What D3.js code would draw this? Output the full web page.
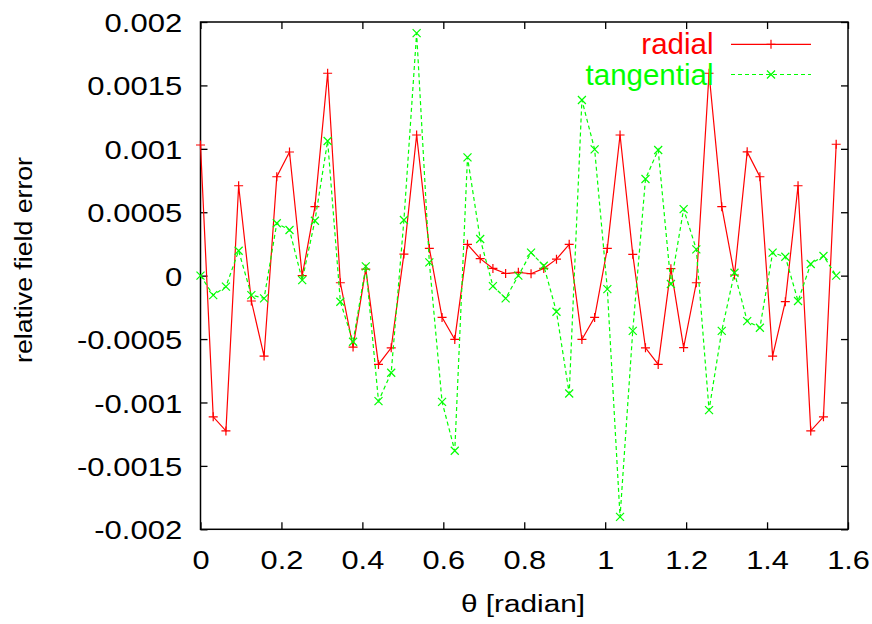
<!DOCTYPE html>
<html>
<head>
<meta charset="utf-8">
<script src="https://cdn.jsdelivr.net/npm/d3@7"></script>
<style>
html,body{margin:0;padding:0;background:#fff;}
svg{display:block;}
text{font-family:"Liberation Sans",Arial,Helvetica,sans-serif;}
</style>
</head>
<body>
<svg id="chart" width="872" height="624"></svg>
<script>
// theta = i * pi/100, i = 0..50
const nPoints = 51;
const thetaStep = Math.PI / 100;
const radial = [
  1.030e-3, -1.113e-3, -1.224e-3, 0.709e-3, -0.200e-3, -0.634e-3, 0.780e-3, 0.975e-3, 0.000e-3, 0.544e-3,
  1.596e-3, -0.056e-3, -0.563e-3, 0.052e-3, -0.700e-3, -0.569e-3, 0.170e-3, 1.109e-3, 0.215e-3, -0.329e-3,
  -0.503e-3, 0.247e-3, 0.134e-3, 0.057e-3, 0.017e-3, 0.026e-3, 0.015e-3, 0.057e-3, 0.130e-3, 0.247e-3,
  -0.503e-3, -0.329e-3, 0.215e-3, 1.109e-3, 0.168e-3, -0.569e-3, -0.700e-3, 0.055e-3, -0.567e-3, -0.056e-3,
  1.596e-3, 0.544e-3, 0.005e-3, 0.976e-3, 0.780e-3, -0.634e-3, -0.205e-3, 0.709e-3, -1.224e-3, -1.113e-3,
  1.036e-3
];
const tangential = [
  0.000e-3, -0.153e-3, -0.087e-3, 0.196e-3, -0.153e-3, -0.179e-3, 0.413e-3, 0.360e-3, -0.035e-3, 0.433e-3,
  1.062e-3, -0.206e-3, -0.521e-3, 0.073e-3, -0.989e-3, -0.766e-3, 0.439e-3, 1.912e-3, 0.105e-3, -0.995e-3,
  -1.381e-3, 0.933e-3, 0.289e-3, -0.082e-3, -0.179e-3, 0.000e-3, 0.181e-3, 0.078e-3, -0.285e-3, -0.929e-3,
  1.385e-3, 0.996e-3, -0.106e-3, -1.902e-3, -0.435e-3, 0.762e-3, 0.991e-3, -0.066e-3, 0.525e-3, 0.207e-3,
  -1.060e-3, -0.435e-3, 0.023e-3, -0.358e-3, -0.411e-3, 0.181e-3, 0.149e-3, -0.200e-3, 0.092e-3, 0.155e-3,
  0.000e-3
];
const xTicks = [0, 0.2, 0.4, 0.6, 0.8, 1, 1.2, 1.4, 1.6];
const yTicks = [-0.002, -0.0015, -0.001, -0.0005, 0, 0.0005, 0.001, 0.0015, 0.002];
const seriesNames = ["radial", "tangential"];
const seriesColors = ["#ff0000", "#00ff00"];

const svg = d3.select("#chart");
const L = 200.5, R = 848, T = 22, B = 529.3;
const x = d3.scaleLinear().domain([0, 1.6]).range([L, R]);
const y = d3.scaleLinear().domain([-0.002, 0.002]).range([B, T]);

const fmtY = v => v === 0 ? "0" : String(+v.toPrecision(2));
const fmtX = v => String(+v.toFixed(1));

function stretch(sel, f){
  sel.each(function(){
    const w = this.getComputedTextLength();
    d3.select(this).attr("textLength", w * f).attr("lengthAdjust", "spacingAndGlyphs");
  });
}

// axes with inward ticks
const tickLen = 7;
const axB = d3.axisBottom(x).tickValues(xTicks).tickSize(-tickLen).tickFormat(fmtX);
const axT = d3.axisTop(x).tickValues(xTicks).tickSize(-tickLen).tickFormat("");
const axL = d3.axisLeft(y).tickValues(yTicks).tickSize(-tickLen).tickFormat(fmtY);
const axR = d3.axisRight(y).tickValues(yTicks).tickSize(-tickLen).tickFormat("");

function style(g){
  g.select(".domain").remove();
  g.selectAll(".tick line").attr("stroke", "#000").attr("stroke-width", 1.3);
  g.selectAll("text").attr("fill", "#000").style("font-size", "26.5px").style("font-family", "'Liberation Sans', Arial, sans-serif");
}
const gB = svg.append("g").attr("transform", `translate(0,${B})`).call(axB).call(style);
gB.selectAll("text").attr("y", 30.7).attr("dy", "0.35em");
stretch(gB.selectAll("text"), 1.16);
svg.append("g").attr("transform", `translate(0,${T})`).call(axT).call(style);
const gL = svg.append("g").attr("transform", `translate(${L},0)`).call(axL).call(style);
gL.selectAll("text").attr("x", -18.3).attr("dy", "0.36em");
stretch(gL.selectAll("text"), 1.17);
svg.append("g").attr("transform", `translate(${R},0)`).call(axR).call(style);

// frame
svg.append("rect").attr("x", L).attr("y", T).attr("width", R - L).attr("height", B - T)
  .attr("fill", "none").attr("stroke", "#000").attr("stroke-width", 1.5);

// axis titles
svg.append("text").attr("x", 523).attr("y", 611.7).attr("text-anchor", "middle")
  .style("font-size", "23.5px").attr("textLength", 124).attr("lengthAdjust", "spacingAndGlyphs")
  .text("θ [radian]");
svg.append("text").attr("transform", "translate(32,260) rotate(-90)").attr("text-anchor", "middle")
  .style("font-size", "23.5px").attr("textLength", 206).attr("lengthAdjust", "spacingAndGlyphs")
  .text("relative field error");

const idx = d3.range(nPoints);
const line = d3.line().x(d => x(d[0])).y(d => y(d[1]));
const allData = [radial, tangential].map(arr => idx.map(i => [i * thetaStep, arr[i]]));

const plot = svg.append("g");
function plus(g, cx, cy, col){
  const s = 4.5;
  g.append("path").attr("d", `M${cx - s},${cy}H${cx + s}M${cx},${cy - s}V${cy + s}`)
    .attr("stroke", col).attr("stroke-width", 1.2).attr("fill", "none");
}
function cross(g, cx, cy, col){
  const s = 4;
  g.append("path").attr("d", `M${cx - s},${cy - s}L${cx + s},${cy + s}M${cx - s},${cy + s}L${cx + s},${cy - s}`)
    .attr("stroke", col).attr("stroke-width", 1.2).attr("fill", "none");
}

// radial
plot.append("path").datum(allData[0]).attr("d", line).attr("fill", "none")
  .attr("stroke", seriesColors[0]).attr("stroke-width", 1.2);
allData[0].forEach(d => plus(plot, x(d[0]), y(d[1]), seriesColors[0]));
// tangential
plot.append("path").datum(allData[1]).attr("d", line).attr("fill", "none")
  .attr("stroke", seriesColors[1]).attr("stroke-width", 1.2).attr("stroke-dasharray", "4,3");
allData[1].forEach(d => cross(plot, x(d[0]), y(d[1]), seriesColors[1]));

// legend
const leg = svg.append("g");
const legY = [44.3, 74.5];
seriesNames.forEach((name, k) => {
  leg.append("text").attr("x", 713.5).attr("y", legY[k]).attr("dy", "0.34em")
    .attr("text-anchor", "end").attr("fill", seriesColors[k]).style("font-size", "29.5px").text(name);
  leg.append("line").attr("x1", 731).attr("x2", 811).attr("y1", legY[k]).attr("y2", legY[k])
    .attr("stroke", seriesColors[k]).attr("stroke-width", 1.2)
    .attr("stroke-dasharray", k === 1 ? "4,3" : null);
  if (k === 0) plus(leg, 771, legY[k], seriesColors[k]); else cross(leg, 771, legY[k], seriesColors[k]);
});
</script>
</body>
</html>
